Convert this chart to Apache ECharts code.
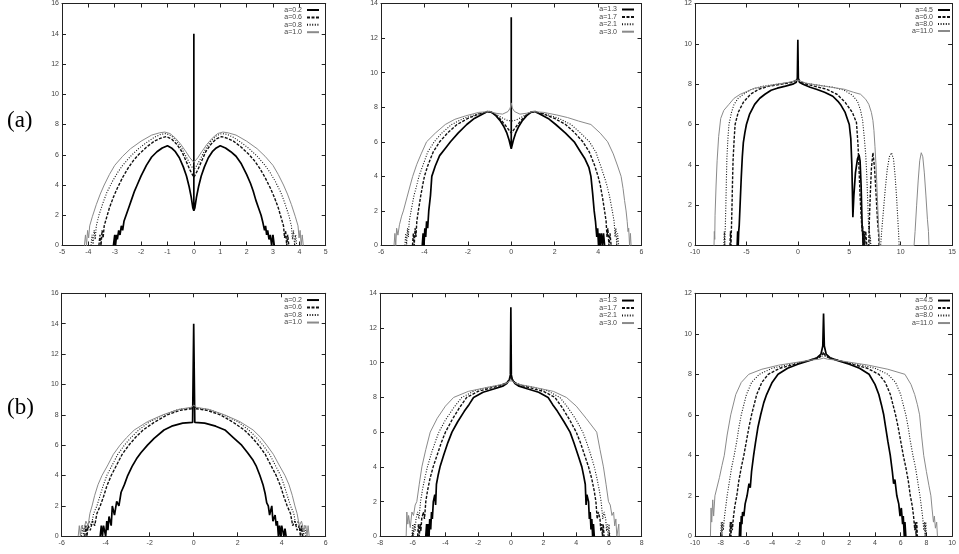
<!DOCTYPE html>
<html><head><meta charset="utf-8">
<script src="https://cdn.jsdelivr.net/npm/echarts@6/dist/echarts.min.js"></script>
<style>html,body{margin:0;padding:0;background:#fff}#c{width:959px;height:554px}</style>
</head><body><div id="c"></div>
<script>
// ---------- labels ----------
const rowLabels = ['(a)', '(b)'];
const a1_names = ['a=0.2', 'a=0.6', 'a=0.8', 'a=1.0'];
const a2_names = ['a=1.3', 'a=1.7', 'a=2.1', 'a=3.0'];
const a3_names = ['a=4.5', 'a=6.0', 'a=8.0', 'a=11.0'];

// ---------- axis ranges [min, max, interval] ----------
const a1_xRange = [-5, 5, 1],  a1_yRange = [0, 16, 2];
const a2_xRange = [-6, 6, 2],  a2_yRange = [0, 14, 2];
const a3_xRange = [-10, 15, 5], a3_yRange = [0, 12, 2];
const b1_xRange = [-6, 6, 2],  b1_yRange = [0, 16, 2];
const b2_xRange = [-8, 8, 2],  b2_yRange = [0, 14, 2];
const b3_xRange = [-10, 10, 2], b3_yRange = [0, 12, 2];

// ---------- panel (a) left ----------
const a1_s1 = [[-3.05,0],[-3.0,0.7],[-2.97,0],[-2.93,0.7],[-2.9,0.4],[-2.85,1.0],[-2.8,0.7],[-2.75,1.3],[-2.7,1.0],[-2.65,1.6],[-2.55,2.1],[-2.45,2.6],[-2.35,3.1],[-2.25,3.6],[-2.15,4.0],[-2.0,4.6],[-1.8,5.3],[-1.6,5.85],[-1.4,6.2],[-1.2,6.45],[-1.0,6.6],[-0.85,6.45],[-0.7,6.2],[-0.55,5.8],[-0.4,5.2],[-0.28,4.6],[-0.18,3.9],[-0.1,3.2],[-0.04,2.5],[0,2.3],[0,14],[0,2.3],[0.04,2.5],[0.1,3.2],[0.18,3.9],[0.28,4.6],[0.4,5.2],[0.55,5.8],[0.7,6.2],[0.85,6.45],[1.0,6.6],[1.2,6.45],[1.4,6.2],[1.6,5.9],[1.8,5.4],[2.0,4.7],[2.15,4.1],[2.25,3.6],[2.35,3.0],[2.45,2.5],[2.55,2.0],[2.62,1.5],[2.68,1.0],[2.72,1.3],[2.76,0.7],[2.8,1.0],[2.85,0.4],[2.9,0.7],[2.95,0],[3.0,0.7],[3.05,0]];
const a1_s2 = [[-3.6,0],[-3.56,0.7],[-3.52,0],[-3.48,1.0],[-3.44,0.5],[-3.4,1.3],[-3.3,1.9],[-3.2,2.5],[-3.05,3.2],[-2.9,3.8],[-2.7,4.5],[-2.5,5.1],[-2.3,5.6],[-2.1,6.0],[-1.8,6.5],[-1.5,6.9],[-1.25,7.1],[-1.05,7.2],[-0.85,7.05],[-0.65,6.7],[-0.45,6.2],[-0.3,5.6],[-0.15,5.0],[0,4.5],[0.15,5.0],[0.3,5.6],[0.45,6.2],[0.65,6.7],[0.85,7.05],[1.05,7.2],[1.25,7.1],[1.5,6.9],[1.8,6.5],[2.1,6.0],[2.3,5.6],[2.5,5.1],[2.7,4.5],[2.9,3.8],[3.05,3.2],[3.2,2.5],[3.3,1.9],[3.4,1.3],[3.44,0.5],[3.48,1.0],[3.52,0],[3.56,0.7],[3.6,0]];
const a1_s3 = [[-3.9,0],[-3.86,0.7],[-3.82,0],[-3.78,1.0],[-3.74,0.4],[-3.7,1.3],[-3.6,2.0],[-3.45,2.8],[-3.3,3.5],[-3.1,4.2],[-2.9,4.8],[-2.7,5.3],[-2.4,5.9],[-2.1,6.4],[-1.8,6.8],[-1.5,7.15],[-1.25,7.35],[-1.05,7.4],[-0.85,7.25],[-0.65,6.9],[-0.45,6.4],[-0.3,5.9],[-0.15,5.4],[0,5.0],[0.15,5.4],[0.3,5.9],[0.45,6.4],[0.65,6.9],[0.85,7.25],[1.05,7.4],[1.25,7.35],[1.5,7.15],[1.8,6.8],[2.1,6.4],[2.4,5.9],[2.7,5.3],[2.9,4.8],[3.1,4.2],[3.3,3.5],[3.45,2.8],[3.6,2.0],[3.7,1.3],[3.74,0.4],[3.78,1.0],[3.82,0],[3.86,0.7],[3.9,0]];
const a1_s4 = [[-4.15,0],[-4.11,0.7],[-4.07,0],[-4.03,1.0],[-3.99,0.5],[-3.95,1.3],[-3.85,1.9],[-3.7,2.7],[-3.55,3.4],[-3.4,4.0],[-3.2,4.7],[-3.0,5.3],[-2.7,5.9],[-2.4,6.4],[-2.0,6.9],[-1.6,7.3],[-1.3,7.45],[-1.1,7.5],[-0.9,7.4],[-0.7,7.1],[-0.5,6.7],[-0.3,6.2],[-0.15,5.8],[0,5.5],[0.15,5.8],[0.3,6.2],[0.5,6.7],[0.7,7.1],[0.9,7.4],[1.1,7.5],[1.3,7.45],[1.6,7.3],[2.0,6.9],[2.4,6.4],[2.7,5.9],[3.0,5.3],[3.2,4.7],[3.4,4.0],[3.55,3.4],[3.7,2.7],[3.85,1.9],[3.95,1.3],[3.99,0.5],[4.03,1.0],[4.07,0],[4.11,0.7],[4.15,0]];

// ---------- panel (a) middle ----------
const a2_s1 = [[-4.1,0],[-4.06,0.7],[-4.02,0],[-3.98,1.0],[-3.94,0.5],[-3.9,1.4],[-3.85,1.0],[-3.8,2.0],[-3.72,2.9],[-3.66,4.0],[-3.5,4.6],[-3.3,5.2],[-3.05,5.6],[-2.8,6.0],[-2.45,6.5],[-2.05,7.0],[-1.7,7.35],[-1.4,7.55],[-1.1,7.75],[-0.9,7.7],[-0.7,7.5],[-0.5,7.2],[-0.35,6.9],[-0.2,6.5],[-0.1,6.1],[0,5.6],[0,13.2],[0,5.6],[0.1,6.1],[0.2,6.5],[0.35,6.9],[0.5,7.2],[0.7,7.5],[0.9,7.7],[1.1,7.75],[1.4,7.55],[1.7,7.35],[2.05,7.0],[2.5,6.5],[2.9,6.0],[3.15,5.5],[3.4,5.0],[3.58,4.5],[3.67,4.0],[3.75,3.0],[3.82,2.0],[3.88,1.4],[3.94,0.5],[3.98,1.0],[4.02,0],[4.06,0.7],[4.1,0],[4.15,0.7],[4.2,0],[4.25,0.7],[4.3,0]];
const a2_s2 = [[-4.55,0],[-4.51,0.7],[-4.47,0],[-4.43,1.0],[-4.39,0.5],[-4.35,1.4],[-4.28,2.0],[-4.18,2.8],[-4.08,3.5],[-4.0,4.0],[-3.85,4.6],[-3.6,5.4],[-3.3,6.0],[-2.9,6.55],[-2.5,7.0],[-2.0,7.35],[-1.5,7.6],[-1.0,7.75],[-0.75,7.6],[-0.5,7.3],[-0.3,7.0],[-0.12,6.7],[0,6.5],[0.12,6.7],[0.3,7.0],[0.5,7.3],[0.75,7.6],[1.0,7.75],[1.5,7.6],[2.0,7.35],[2.5,7.0],[2.9,6.55],[3.3,6.0],[3.6,5.4],[3.85,4.6],[4.0,4.0],[4.1,3.5],[4.2,2.8],[4.3,2.0],[4.37,1.4],[4.41,0.5],[4.45,1.0],[4.5,0],[4.55,0.7],[4.6,0]];
const a2_s3 = [[-4.9,0],[-4.86,0.7],[-4.82,0],[-4.78,1.0],[-4.74,0.5],[-4.7,1.4],[-4.6,2.1],[-4.48,2.9],[-4.35,3.5],[-4.25,4.0],[-4.08,4.6],[-3.85,5.4],[-3.55,6.0],[-3.2,6.5],[-2.75,7.0],[-2.2,7.35],[-1.6,7.6],[-0.95,7.75],[-0.7,7.6],[-0.45,7.4],[-0.2,7.25],[0,7.2],[0.2,7.25],[0.45,7.4],[0.7,7.6],[0.95,7.75],[1.6,7.6],[2.2,7.35],[2.75,7.0],[3.2,6.5],[3.6,6.0],[3.9,5.4],[4.12,4.6],[4.28,4.0],[4.4,3.5],[4.52,2.9],[4.64,2.1],[4.74,1.4],[4.78,0.5],[4.82,1.0],[4.86,0],[4.9,0.7],[4.95,0]];
const a2_s4 = [[-5.4,0],[-5.36,0.7],[-5.32,0],[-5.28,1.0],[-5.22,0.6],[-5.15,1.2],[-5.05,1.7],[-4.97,2.0],[-4.8,2.8],[-4.65,3.5],[-4.54,4.0],[-4.35,4.7],[-4.15,5.3],[-3.9,6.0],[-3.5,6.5],[-3.04,7.0],[-2.6,7.3],[-2.1,7.5],[-1.5,7.7],[-1.0,7.75],[-0.7,7.65],[-0.4,7.6],[-0.15,7.75],[-0.05,7.95],[0,8.25],[0.05,7.95],[0.15,7.75],[0.4,7.6],[0.7,7.65],[1.0,7.75],[1.5,7.7],[2.1,7.55],[2.6,7.4],[3.1,7.2],[3.67,7.0],[4.1,6.5],[4.44,6.0],[4.7,5.3],[4.9,4.6],[5.06,4.0],[5.15,3.3],[5.22,2.6],[5.29,2.0],[5.34,1.4],[5.38,0.8],[5.41,1.0],[5.45,0],[5.49,0.7],[5.52,0]];

// ---------- panel (a) right ----------
const a3_s1 = [[-5.9,0],[-5.85,0.7],[-5.8,0],[-5.75,0.7],[-5.7,1.0],[-5.65,1.6],[-5.6,2.2],[-5.5,3.4],[-5.4,4.4],[-5.3,5.1],[-5.15,5.6],[-5.0,6.0],[-4.7,6.5],[-4.2,7.0],[-3.7,7.3],[-3.2,7.5],[-2.6,7.7],[-2.0,7.8],[-1.2,7.9],[-0.5,8.0],[-0.15,8.1],[-0.05,8.3],[0,10.2],[0.05,8.3],[0.15,8.1],[0.5,8.0],[1.2,7.85],[1.8,7.75],[2.6,7.6],[3.4,7.4],[3.9,7.15],[4.2,6.95],[4.6,6.6],[5.0,6.0],[5.15,5.3],[5.25,4.0],[5.3,2.8],[5.35,1.4],[5.45,2.5],[5.6,3.6],[5.8,4.3],[5.95,4.5],[6.05,4.2],[6.15,3.0],[6.2,2.0],[6.25,1.0],[6.3,0.7],[6.35,0],[6.4,0.7],[6.45,0]];
const a3_s2 = [[-6.6,0],[-6.55,0.7],[-6.5,0],[-6.45,1.0],[-6.4,2.0],[-6.35,3.2],[-6.3,4.2],[-6.2,5.2],[-6.1,6.0],[-5.8,6.6],[-5.3,7.1],[-4.6,7.5],[-3.8,7.75],[-2.8,7.9],[-1.6,8.0],[-0.5,8.1],[0,8.25],[0.5,8.05],[1.6,7.9],[2.8,7.75],[3.8,7.5],[4.6,7.1],[5.3,6.6],[5.7,6.1],[5.85,5.0],[5.95,3.8],[6.05,2.5],[6.15,1.5],[6.25,0.7],[6.3,1.0],[6.35,0],[6.45,0.7],[6.5,0],[6.6,0.7],[6.7,0],[6.9,0],[6.95,1.2],[7.05,2.6],[7.15,3.8],[7.3,4.6],[7.45,3.9],[7.6,2.6],[7.75,1.2],[7.85,0.6],[7.9,0]];
const a3_s3 = [[-7.2,0],[-7.15,0.7],[-7.1,0],[-7.05,1.0],[-7.0,2.0],[-6.95,3.2],[-6.9,4.3],[-6.8,5.3],[-6.7,6.0],[-6.45,6.6],[-6.2,7.0],[-5.8,7.3],[-5.3,7.5],[-4.5,7.75],[-3.4,7.9],[-2.0,8.0],[-0.7,8.1],[0,8.2],[0.7,8.05],[2.0,7.95],[3.4,7.85],[4.5,7.7],[5.3,7.45],[5.8,7.15],[6.1,6.7],[6.3,6.2],[6.45,5.4],[6.6,4.5],[6.7,3.5],[6.78,2.4],[6.85,1.4],[6.9,0.7],[6.95,1.0],[7.0,0],[7.05,0.5],[7.1,0],[8.05,0],[8.15,0.7],[8.3,1.6],[8.5,2.8],[8.7,3.8],[8.9,4.4],[9.1,4.6],[9.3,4.3],[9.45,3.5],[9.6,2.4],[9.72,1.3],[9.8,0.6],[9.85,0]];
const a3_s4 = [[-8.15,0],[-8.12,0.7],[-8.08,0.3],[-8.05,1.5],[-7.95,3.0],[-7.85,4.2],[-7.7,5.4],[-7.5,6.3],[-7.2,6.7],[-6.7,7.0],[-6.2,7.3],[-5.6,7.5],[-4.9,7.65],[-4.2,7.8],[-3.0,7.9],[-2.0,8.0],[-0.8,8.1],[0,8.2],[0.8,8.05],[2.0,7.95],[3.2,7.85],[4.5,7.75],[5.4,7.6],[6.1,7.5],[6.6,7.25],[6.9,7.0],[7.15,6.6],[7.3,6.2],[7.4,5.7],[7.5,4.9],[7.6,4.0],[7.7,2.8],[7.78,1.8],[7.85,1.0],[7.9,0.5],[7.95,0],[11.3,0],[11.4,0.7],[11.55,2.0],[11.7,3.2],[11.85,4.2],[12.0,4.6],[12.15,4.4],[12.3,3.6],[12.45,2.5],[12.6,1.3],[12.7,0.7],[12.75,0]];

// ---------- panel (b) left ----------
const b1_s1 = [[-4.25,0],[-4.2,0.7],[-4.15,0],[-4.1,0.7],[-4.0,0],[-3.95,1.0],[-3.9,0.4],[-3.85,1.3],[-3.75,0.7],[-3.7,2.0],[-3.6,1.4],[-3.5,2.3],[-3.4,2.0],[-3.3,2.9],[-3.15,3.4],[-3.0,4.0],[-2.8,4.6],[-2.6,5.1],[-2.4,5.5],[-2.1,6.0],[-1.8,6.45],[-1.35,7.0],[-1.0,7.25],[-0.5,7.45],[-0.05,7.5],[0,14],[0.05,7.5],[0.5,7.45],[1.0,7.25],[1.42,7.0],[1.8,6.5],[2.18,6.0],[2.45,5.5],[2.7,5.0],[2.85,4.6],[3.01,4.0],[3.15,3.4],[3.25,2.8],[3.32,2.2],[3.39,2.0],[3.45,1.4],[3.55,2.0],[3.6,1.0],[3.7,1.4],[3.75,0.7],[3.8,1.0],[3.85,0],[3.9,0.7],[3.95,0],[4.0,0.7],[4.1,0],[4.15,0.5],[4.2,0]];
const b1_s2 = [[-4.95,0],[-4.9,0.7],[-4.85,0],[-4.8,0.7],[-4.7,0.4],[-4.6,1.0],[-4.5,0.7],[-4.4,1.5],[-4.25,2.0],[-4.1,2.6],[-3.95,3.3],[-3.75,4.0],[-3.5,4.7],[-3.25,5.4],[-2.95,6.0],[-2.65,6.5],[-2.3,7.0],[-1.8,7.5],[-1.2,8.0],[-0.6,8.3],[-0.1,8.4],[0,8.55],[0.1,8.4],[0.6,8.3],[1.2,8.0],[1.8,7.5],[2.3,7.0],[2.65,6.5],[2.95,6.0],[3.25,5.4],[3.5,4.7],[3.75,4.0],[3.95,3.3],[4.1,2.6],[4.25,2.0],[4.4,1.5],[4.5,0.7],[4.6,1.0],[4.7,0.4],[4.8,0.7],[4.85,0],[4.9,0.7],[4.95,0]];
const b1_s3 = [[-5.1,0],[-5.05,0.7],[-5.0,0],[-4.95,0.7],[-4.85,0.4],[-4.75,1.0],[-4.65,0.7],[-4.55,1.5],[-4.4,2.0],[-4.25,2.7],[-4.1,3.4],[-3.95,4.0],[-3.7,4.7],[-3.45,5.4],[-3.15,6.0],[-2.85,6.5],[-2.5,7.0],[-2.0,7.55],[-1.35,8.0],[-0.7,8.35],[-0.1,8.45],[0,8.6],[0.1,8.45],[0.7,8.35],[1.35,8.0],[2.0,7.55],[2.5,7.0],[2.85,6.5],[3.15,6.0],[3.45,5.4],[3.7,4.7],[3.95,4.0],[4.1,3.4],[4.25,2.7],[4.4,2.0],[4.55,1.5],[4.65,0.7],[4.75,1.0],[4.85,0.4],[4.95,0.7],[5.0,0],[5.05,0.7],[5.1,0]];
const b1_s4 = [[-5.25,0],[-5.2,0.7],[-5.15,0],[-5.1,0.7],[-5.0,0.4],[-4.9,1.0],[-4.8,0.7],[-4.72,1.5],[-4.62,2.0],[-4.5,2.7],[-4.35,3.4],[-4.17,4.0],[-3.9,4.7],[-3.65,5.4],[-3.35,6.0],[-3.05,6.5],[-2.7,7.0],[-2.1,7.55],[-1.4,8.0],[-0.7,8.35],[-0.1,8.5],[0,8.65],[0.1,8.5],[0.7,8.35],[1.4,8.0],[2.1,7.55],[2.7,7.0],[3.05,6.5],[3.32,6.0],[3.62,5.4],[3.88,4.7],[4.15,4.0],[4.33,3.4],[4.48,2.7],[4.6,2.0],[4.7,1.5],[4.8,0.7],[4.9,1.0],[5.0,0.4],[5.1,0.7],[5.15,0],[5.2,0.7],[5.25,0]];

// ---------- panel (b) middle ----------
const b2_s1 = [[-5.2,0],[-5.15,0.7],[-5.1,0],[-5.05,0.7],[-5.0,0],[-4.96,1.0],[-4.9,0.4],[-4.85,1.4],[-4.8,1.0],[-4.74,2.0],[-4.65,2.4],[-4.6,1.8],[-4.55,3.0],[-4.45,3.5],[-4.33,4.0],[-4.1,4.7],[-3.85,5.4],[-3.6,6.0],[-3.25,6.6],[-2.85,7.2],[-2.55,7.6],[-2.28,8.0],[-1.7,8.3],[-1.0,8.5],[-0.5,8.65],[-0.25,8.8],[-0.1,9.0],[-0.03,9.3],[0,13.2],[0.03,9.3],[0.1,9.0],[0.25,8.8],[0.5,8.65],[1.0,8.5],[1.7,8.3],[2.28,8.0],[2.55,7.6],[2.85,7.2],[3.25,6.6],[3.62,6.0],[3.85,5.4],[4.1,4.7],[4.34,4.0],[4.45,3.5],[4.55,3.0],[4.6,1.8],[4.65,2.4],[4.75,2.0],[4.8,1.0],[4.85,1.4],[4.9,0.4],[4.95,1.0],[5.0,0],[5.05,0.7],[5.1,0]];
const b2_s2 = [[-5.7,0],[-5.65,0.7],[-5.6,0],[-5.55,0.7],[-5.5,0.3],[-5.45,1.0],[-5.35,1.4],[-5.28,1.0],[-5.2,2.0],[-5.1,2.6],[-4.95,3.3],[-4.75,4.0],[-4.5,4.7],[-4.25,5.4],[-4.0,6.0],[-3.6,6.7],[-3.15,7.4],[-2.7,8.0],[-2.0,8.35],[-1.2,8.55],[-0.6,8.7],[-0.25,8.85],[-0.08,9.05],[0,9.2],[0.08,9.05],[0.25,8.85],[0.6,8.7],[1.2,8.55],[2.0,8.35],[2.7,8.0],[3.15,7.4],[3.6,6.7],[4.0,6.0],[4.25,5.4],[4.5,4.7],[4.75,4.0],[4.95,3.3],[5.1,2.6],[5.2,2.0],[5.28,1.0],[5.35,1.4],[5.45,1.0],[5.5,0.3],[5.55,0.7],[5.6,0],[5.65,0.7],[5.7,0]];
const b2_s3 = [[-6.05,0],[-6.0,0.7],[-5.95,0],[-5.9,0.7],[-5.85,0.3],[-5.8,1.0],[-5.7,1.4],[-5.62,1.0],[-5.52,2.0],[-5.4,2.7],[-5.25,3.4],[-5.1,4.0],[-4.85,4.8],[-4.6,5.5],[-4.4,6.0],[-4.0,6.7],[-3.5,7.4],[-3.0,8.0],[-2.2,8.4],[-1.3,8.6],[-0.6,8.72],[-0.25,8.85],[-0.08,9.0],[0,9.1],[0.08,9.0],[0.25,8.85],[0.6,8.72],[1.3,8.6],[2.2,8.4],[3.0,8.0],[3.5,7.4],[4.0,6.7],[4.4,6.0],[4.6,5.5],[4.85,4.8],[5.1,4.0],[5.25,3.4],[5.4,2.7],[5.52,2.0],[5.62,1.0],[5.7,1.4],[5.8,1.0],[5.85,0.3],[5.9,0.7],[5.95,0],[6.0,0.7],[6.05,0]];
const b2_s4 = [[-6.4,0],[-6.36,1.4],[-6.3,0.7],[-6.25,1.2],[-6.15,0.5],[-6.05,1.4],[-5.95,1.2],[-5.85,1.8],[-5.75,2.0],[-5.6,3.0],[-5.44,4.0],[-5.2,5.0],[-4.93,6.0],[-4.5,6.8],[-4.0,7.5],[-3.5,8.0],[-2.6,8.35],[-1.6,8.55],[-0.8,8.7],[-0.3,8.8],[-0.08,8.95],[0,9.05],[0.08,8.95],[0.3,8.8],[0.8,8.7],[1.6,8.55],[2.6,8.35],[3.4,8.0],[4.0,7.5],[4.6,6.8],[5.25,6.0],[5.45,5.0],[5.66,4.0],[5.82,3.0],[5.97,2.0],[6.08,1.8],[6.18,1.2],[6.28,1.4],[6.35,0.6],[6.42,1.0],[6.48,0],[6.55,0],[6.6,0.7],[6.62,0]];

// ---------- panel (b) right ----------
const b3_s1 = [[-6.55,0],[-6.5,0.7],[-6.45,0],[-6.4,1.0],[-6.35,0.6],[-6.3,1.2],[-6.2,1.0],[-6.1,1.6],[-5.95,2.0],[-5.8,2.6],[-5.7,2.4],[-5.6,3.2],[-5.44,4.0],[-5.3,4.6],[-5.1,5.4],[-4.89,6.0],[-4.65,6.6],[-4.43,7.0],[-4.0,7.6],[-3.54,8.0],[-2.8,8.3],[-2.0,8.5],[-1.0,8.7],[-0.5,8.82],[-0.2,9.0],[-0.06,9.4],[0,11.0],[0.06,9.4],[0.2,9.0],[0.5,8.82],[1.0,8.7],[2.0,8.5],[2.8,8.3],[3.54,8.0],[4.0,7.5],[4.3,7.0],[4.5,6.5],[4.68,6.0],[4.85,5.3],[5.0,4.7],[5.19,4.0],[5.35,3.2],[5.45,2.6],[5.55,2.8],[5.7,2.0],[5.85,1.6],[5.95,1.0],[6.05,1.4],[6.15,0.6],[6.2,1.0],[6.28,0],[6.33,0.7],[6.4,0]];
const b3_s2 = [[-7.3,0],[-7.25,0.7],[-7.2,0],[-7.15,0.7],[-7.1,0.3],[-7.0,1.0],[-6.9,1.5],[-6.75,2.0],[-6.6,2.7],[-6.4,3.4],[-6.2,4.0],[-6.0,4.7],[-5.8,5.4],[-5.6,6.0],[-5.4,6.5],[-5.2,7.0],[-4.8,7.6],[-4.3,8.0],[-3.4,8.3],[-2.2,8.5],[-1.1,8.7],[-0.4,8.82],[-0.1,8.95],[0,9.1],[0.1,8.95],[0.4,8.82],[1.1,8.7],[2.2,8.5],[3.4,8.3],[4.3,8.0],[4.8,7.6],[5.2,7.0],[5.4,6.5],[5.6,6.0],[5.8,5.4],[6.0,4.7],[6.2,4.0],[6.4,3.4],[6.6,2.7],[6.75,2.0],[6.9,1.5],[7.0,1.0],[7.1,0.3],[7.15,0.7],[7.2,0],[7.25,0.7],[7.3,0]];
const b3_s3 = [[-8.0,0],[-7.95,0.7],[-7.9,0],[-7.85,0.7],[-7.8,0.3],[-7.7,1.0],[-7.6,1.5],[-7.5,2.0],[-7.3,2.8],[-7.15,3.4],[-6.95,4.0],[-6.75,4.7],[-6.58,5.4],[-6.4,6.0],[-6.2,6.5],[-6.0,7.0],[-5.6,7.6],[-5.0,8.0],[-4.0,8.3],[-2.6,8.5],[-1.3,8.65],[-0.5,8.78],[-0.1,8.9],[0,9.0],[0.1,8.9],[0.5,8.78],[1.3,8.65],[2.6,8.5],[4.0,8.3],[5.0,8.0],[5.6,7.6],[6.0,7.0],[6.2,6.5],[6.4,6.0],[6.58,5.4],[6.75,4.7],[6.95,4.0],[7.15,3.4],[7.3,2.8],[7.5,2.0],[7.6,1.5],[7.7,1.0],[7.8,0.3],[7.85,0.7],[7.9,0],[7.95,0.7],[8.0,0]];
const b3_s4 = [[-8.8,0],[-8.75,1.4],[-8.7,0.7],[-8.62,1.8],[-8.55,1.0],[-8.45,2.0],[-8.35,2.0],[-8.1,2.9],[-7.9,3.5],[-7.72,4.0],[-7.5,5.0],[-7.22,6.0],[-6.83,7.0],[-6.4,7.6],[-5.82,8.0],[-4.8,8.25],[-3.5,8.45],[-2.0,8.6],[-1.0,8.7],[-0.3,8.75],[0,8.8],[0.3,8.75],[1.0,8.7],[2.0,8.6],[3.5,8.45],[5.0,8.25],[6.33,8.0],[6.8,7.5],[7.09,7.0],[7.3,6.5],[7.47,6.0],[7.62,5.0],[7.79,4.0],[8.0,3.2],[8.2,2.5],[8.35,2.0],[8.45,1.3],[8.55,0.7],[8.62,1.0],[8.7,0.4],[8.8,0.7],[8.86,0]];

// ---------- layout (positions / styles only) ----------
const layout = [
  {grid:{left:62,   top:1.5,   width:263.7, height:244}, legend:{right:639, top:6.3,  lh:7.4}},
  {grid:{left:381,  top:1.5,   width:260.5, height:244}, legend:{right:324, top:5.8,  lh:7.4}},
  {grid:{left:695,  top:1.5,   width:263.3, height:244}, legend:{right:8,   top:6.5,  lh:6.2}},
  {grid:{left:61.7, top:293.3, width:264,   height:243}, legend:{right:639, top:296.3, lh:7.5}},
  {grid:{left:380,  top:293.3, width:261.7, height:243}, legend:{right:324, top:296.8, lh:7.5}},
  {grid:{left:695,  top:293.3, width:263.3, height:243}, legend:{right:8,   top:296.8, lh:7.5}}
];
const panels = [
  {x:a1_xRange, y:a1_yRange, names:a1_names, data:[a1_s1,a1_s2,a1_s3,a1_s4]},
  {x:a2_xRange, y:a2_yRange, names:a2_names, data:[a2_s1,a2_s2,a2_s3,a2_s4]},
  {x:a3_xRange, y:a3_yRange, names:a3_names, data:[a3_s1,a3_s2,a3_s3,a3_s4]},
  {x:b1_xRange, y:b1_yRange, names:a1_names, data:[b1_s1,b1_s2,b1_s3,b1_s4]},
  {x:b2_xRange, y:b2_yRange, names:a2_names, data:[b2_s1,b2_s2,b2_s3,b2_s4]},
  {x:b3_xRange, y:b3_yRange, names:a3_names, data:[b3_s1,b3_s2,b3_s3,b3_s4]}
];
const lineStyles = [
  {color:'#000', width:1.7, type:'solid'},
  {color:'#111', width:1.4, type:[3,1.5]},
  {color:'#111', width:1.1, type:[1,1.6]},
  {color:'#8a8a8a', width:1.0, type:'solid'}
];
const FONT = '"Liberation Sans", Arial, sans-serif';
const SERIF = '23px "Liberation Serif", "Times New Roman", serif';

const grids = [], xAxes = [], yAxes = [], series = [], legends = [];
function axisBase(r, gi, pos, showLabel) {
  return {
    type:'value', gridIndex:gi, position:pos, min:r[0], max:r[1], interval:r[2],
    axisLine:{show:true, onZero:false, lineStyle:{color:'#222', width:1}},
    axisTick:{show:true, inside:true, length:4, lineStyle:{color:'#222', width:1}},
    axisLabel:{show:showLabel, fontSize:7, color:'#444', fontFamily:FONT, margin:3,
               showMinLabel:true, showMaxLabel:true},
    splitLine:{show:false}
  };
}
panels.forEach((p, i) => {
  const L = layout[i];
  grids.push(Object.assign({containLabel:false}, L.grid));
  xAxes.push(axisBase(p.x, i, 'bottom', true));
  xAxes.push(axisBase(p.x, i, 'top', false));
  yAxes.push(axisBase(p.y, i, 'left', true));
  yAxes.push(axisBase(p.y, i, 'right', false));
  p.data.forEach((d, k) => {
    series.push({
      type:'line', name:p.names[k], xAxisIndex:2*i, yAxisIndex:2*i, data:d,
      symbol:'none', showSymbol:false, silent:true, animation:false,
      lineStyle:Object.assign({}, lineStyles[k]),
      itemStyle:{color:lineStyles[k].color}
    });
  });
  legends.push({
    orient:'vertical', align:'right', right:L.legend.right, top:L.legend.top,
    data:p.names, itemWidth:12, itemHeight:6, itemGap:0, padding:0,
    selectedMode:false,
    itemStyle:{opacity:0},
    textStyle:{fontSize:7, color:'#444', fontFamily:FONT, lineHeight:L.legend.lh, padding:[0,0,0,0]}
  });
});

const chart = echarts.init(document.getElementById('c'), null, {renderer:'canvas'});
chart.setOption({
  animation:false,
  backgroundColor:'#fff',
  grid:grids, xAxis:xAxes, yAxis:yAxes, series:series, legend:legends,
  graphic:[
    {type:'text', left:7, top:109, style:{text:rowLabels[0], font:SERIF, fill:'#000'}},
    {type:'text', left:7, top:396, style:{text:rowLabels[1], font:SERIF, fill:'#000'}}
  ]
});
</script></body></html>
